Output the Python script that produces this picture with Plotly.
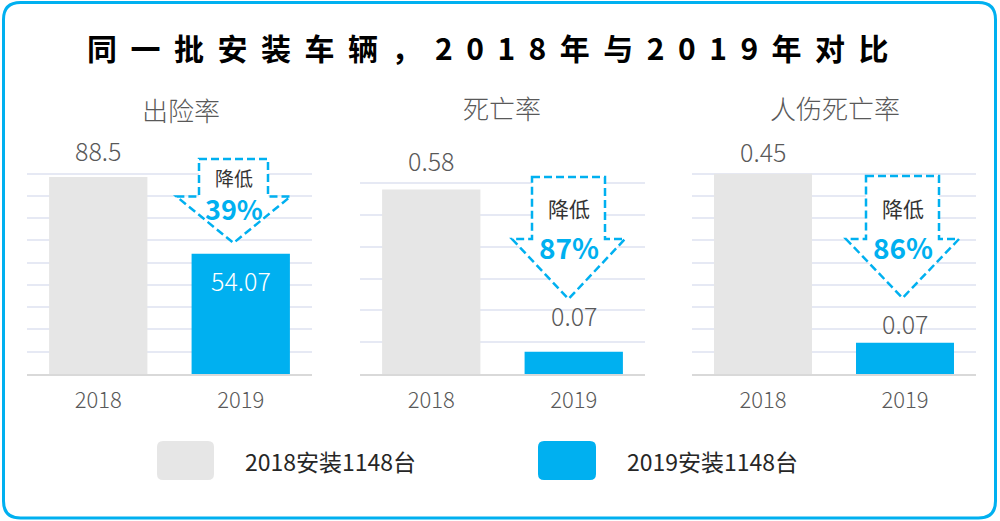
import plotly.graph_objects as go

# ---------------- data ----------------
categories = ["2018", "2019"]
panel_titles = ["出险率", "死亡率", "人伤死亡率"]
values_2018 = [88.5, 0.58, 0.45]
values_2019 = [54.07, 0.07, 0.07]
labels_2018 = ["88.5", "0.58", "0.45"]
labels_2019 = ["54.07", "0.07", "0.07"]
reduction_word = "降低"
reductions = ["39%", "87%", "86%"]
axis_max = [100, 0.7, 0.5]
axis_dtick = [10, 0.1, 0.05]
legend_labels = ["2018安装1148台", "2019安装1148台"]
title_text = "同一批安装车辆，2018年与2019年对比"

# ---------------- style / layout ----------------
W, H = 1000, 521
GRAY = "#E6E6E6"
BLUE = "#00B0F0"
TXT = "#595959"
FONT = "Noto Sans CJK SC"


def X(p):
    return p / W


def Y(p):
    return 1 - p / H


panel_x = [(27, 312), (360, 645), (692, 976)]
panel_top, panel_bottom = 151, 374
title_pos = [(181, 110), (502, 108), (835, 108)]
shift_2018 = [27, 30, 23]
shift_2019 = [-26, 37, 20]
color_2019_label = ["white", TXT, TXT]

# arrow geometry (pixels): center x, top, shoulder, tip, rect half width, wing half width
arrow_geo = [
    (233.5, 159, 196.5, 243, 34.5, 57),
    (568.5, 177, 239, 299, 36.5, 56.5),
    (902.5, 176, 239, 298, 36.5, 56.5),
]
arrow_text_y = [(177, 208), (207.5, 247), (207.5, 247)]
arrow_text_size = [(19, 27), (21, 28), (21, 28)]

fig = go.Figure()
shapes = []
annotations = []

for i in range(3):
    ax = "" if i == 0 else str(i + 1)
    fig.add_trace(go.Bar(
        x=categories,
        y=[values_2018[i], values_2019[i]],
        marker=dict(color=[GRAY, BLUE], line=dict(width=0)),
        width=0.69,
        xaxis="x" + ax, yaxis="y" + ax,
        showlegend=False, hoverinfo="skip",
    ))
    x0, x1 = panel_x[i]
    fig.layout["xaxis" + ax] = dict(
        domain=[X(x0), X(x1)], anchor="y" + ax, type="category",
        range=[-0.5, len(categories) - 0.5], autorange=False,
        showline=True, linecolor="#D9D9D9", linewidth=2,
        showgrid=False, ticks="", ticklabelstandoff=6, automargin=False,
        tickfont=dict(family=FONT, size=22, color=TXT, weight=300),
        fixedrange=True,
    )
    fig.layout["yaxis" + ax] = dict(
        domain=[Y(panel_bottom), Y(panel_top)], anchor="x" + ax,
        range=[0, axis_max[i] * 1.002], autorange=False, dtick=axis_dtick[i],
        showgrid=True, gridcolor="#E6E9F4", gridwidth=1.5,
        zeroline=False, showticklabels=False, ticks="", automargin=False,
        fixedrange=True,
    )
    # panel title
    tx, ty = title_pos[i]
    annotations.append(dict(
        x=X(tx), y=Y(ty), xref="paper", yref="paper", text=panel_titles[i],
        showarrow=False, xanchor="center", yanchor="middle",
        font=dict(family=FONT, size=26, color=TXT, weight=300),
    ))
    # value labels (x given as category index)
    annotations.append(dict(
        x=0, y=values_2018[i], xref="x" + ax, yref="y" + ax,
        text=labels_2018[i], showarrow=False, yanchor="middle", yshift=shift_2018[i],
        font=dict(family=FONT, size=25, color=TXT, weight=300),
    ))
    annotations.append(dict(
        x=1, y=values_2019[i], xref="x" + ax, yref="y" + ax,
        text=labels_2019[i], showarrow=False, yanchor="middle", yshift=shift_2019[i],
        font=dict(family=FONT, size=25, color=color_2019_label[i], weight=300),
    ))
    # dashed reduction arrow
    cx, top, sh, tip, rw, ww = arrow_geo[i]
    pts = [(cx - rw, top), (cx + rw, top), (cx + rw, sh), (cx + ww, sh),
           (cx, tip), (cx - ww, sh), (cx - rw, sh)]
    path = "M " + " L ".join(f"{X(a):.5f},{Y(b):.5f}" for a, b in pts) + " Z"
    shapes.append(dict(
        type="path", path=path, xref="paper", yref="paper",
        fillcolor="white", line=dict(color=BLUE, width=2.5, dash="8px,4px"),
        layer="above",
    ))
    wy, py_ = arrow_text_y[i]
    ws, ps = arrow_text_size[i]
    annotations.append(dict(
        x=X(cx), y=Y(wy), xref="paper", yref="paper", text=reduction_word,
        showarrow=False, xanchor="center", yanchor="middle",
        font=dict(family=FONT, size=ws, color="#333333"),
    ))
    annotations.append(dict(
        x=X(cx), y=Y(py_), xref="paper", yref="paper", text="<b>" + reductions[i] + "</b>",
        showarrow=False, xanchor="center", yanchor="middle",
        font=dict(family=FONT, size=ps, color=BLUE),
    ))


def rrect(x0, y0, x1, y1, r):
    return (
        f"M {X(x0 + r)},{Y(y0)} L {X(x1 - r)},{Y(y0)} Q {X(x1)},{Y(y0)} {X(x1)},{Y(y0 + r)} "
        f"L {X(x1)},{Y(y1 - r)} Q {X(x1)},{Y(y1)} {X(x1 - r)},{Y(y1)} "
        f"L {X(x0 + r)},{Y(y1)} Q {X(x0)},{Y(y1)} {X(x0)},{Y(y1 - r)} "
        f"L {X(x0)},{Y(y0 + r)} Q {X(x0)},{Y(y0)} {X(x0 + r)},{Y(y0)} Z"
    )


# outer rounded border
shapes.append(dict(type="path", path=rrect(3.5, 2.5, 995.5, 518, 17), xref="paper", yref="paper",
                   line=dict(color=BLUE, width=3), fillcolor="rgba(0,0,0,0)", layer="above"))

# legend
legend_boxes = [(157, 441, 214, 480), (538, 441, 596, 480)]
legend_colors = [GRAY, BLUE]
legend_text_x = [243, 625]
for k in range(2):
    bx0, by0, bx1, by1 = legend_boxes[k]
    shapes.append(dict(type="path", path=rrect(bx0, by0, bx1, by1, 6), xref="paper", yref="paper",
                       line=dict(width=0), fillcolor=legend_colors[k], layer="above"))
    annotations.append(dict(
        x=X(legend_text_x[k]), y=Y(461), xref="paper", yref="paper", text=legend_labels[k],
        showarrow=False, xanchor="left", yanchor="middle",
        font=dict(family=FONT, size=23, color="#262626"),
    ))

# main title (letter-spaced)
spaced_title = "\u2005\u2009".join(list(title_text))
annotations.append(dict(
    x=X(488), y=Y(47.5), xref="paper", yref="paper", text="<b>" + spaced_title + "</b>",
    showarrow=False, xanchor="center", yanchor="middle",
    font=dict(family=FONT, size=30, color="#000000"),
))

fig.update_layout(
    width=W, height=H,
    margin=dict(l=0, r=0, t=0, b=0, autoexpand=False),
    paper_bgcolor="white", plot_bgcolor="white",
    shapes=shapes, annotations=annotations,
    bargap=0.31, showlegend=False,
    font=dict(family=FONT),
)

fig.write_html("out.html", config={"displayModeBar": False},
               post_script="document.body.style.margin='0';document.body.style.overflow='hidden';")
